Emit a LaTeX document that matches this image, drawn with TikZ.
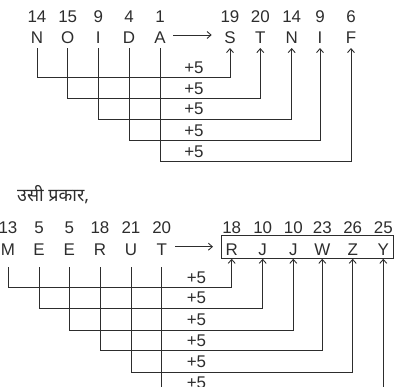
\documentclass[tikz,border=0pt]{standalone}
\usepackage{fontspec}
\setmainfont{Liberation Sans}
\newfontfamily\hindi[Script=Devanagari]{Noto Sans}
\usetikzlibrary{arrows.meta}
\definecolor{ink}{RGB}{45,45,45}
\begin{document}
\begin{tikzpicture}[x=1bp,y=-1bp,
  txt/.style={font=\fontsize{17}{18}\selectfont, text=ink, inner sep=0pt, anchor=base},
  conn/.style={draw=ink, line width=0.9bp, -{Straight Barb[length=4bp,width=7bp]}}]
\useasboundingbox (0,0) rectangle (398,387);
\clip (0,0) rectangle (398,387);
% ---------- top ----------
\foreach \x/\l/\n/\k in {37/N/14/1, 67.7/O/15/2, 98.3/I/9/3, 129/D/4/4, 160/A/1/5} {
  \node[txt] (tl\k) at (\x,43.3) {\l};
  \node[txt] (tn\k) at (\x,22.7) {\n};
}
\foreach \x/\l/\n/\k in {230/S/19/1, 260.3/T/20/2, 291.7/N/14/3, 320/I/9/4, 351/F/6/5} {
  \node[txt] (tr\k) at (\x,43.3) {\l};
  \node[txt] (trn\k) at (\x,22.7) {\n};
}
\foreach \k/\yy in {1/77.7, 2/98.7, 3/119.3, 4/140.7, 5/161.7} {
  \draw[conn] ([yshift=-4.7bp]tl\k.base) -- (tl\k.base |- 0,\yy) -| ([yshift=-4.7bp]tr\k.base);
  \node[txt] (tp\k) at (194,\yy-4.4) {+5};
}
\draw[conn] ([xshift=13.3bp,yshift=8.3bp]tl5.base) -- ([xshift=-18.3bp,yshift=8.3bp]tr1.base);
% ---------- middle text ----------
\node[txt, anchor=base west, font=\hindi\fontsize{18}{20}\selectfont] (hd) at (17,201) {उसी प्रकार,};
% ---------- bottom ----------
\node[draw=ink, line width=0.9bp, minimum width=171.3bp, minimum height=23.3bp, inner sep=0pt] (box) at (307.35,246.65) {};
\foreach \x/\l/\n/\k in {8/M/13/1, 39/E/5/2, 69.3/E/5/3, 100/R/18/4, 131/U/21/5, 161.7/T/20/6} {
  \node[txt] (bl\k) at (\x,255) {\l};
  \node[txt] (bn\k) at (\x,233.3) {\n};
}
\foreach \x/\l/\n/\k in {231.7/R/18/1, 262.7/J/10/2, 293.3/J/10/3, 322.3/W/23/4, 352.7/Z/26/5, 383.3/Y/25/6} {
  \node[txt] (br\k) at (\x,255) {\l};
  \node[txt] (brn\k) at (\x,233.3) {\n};
}
\foreach \k/\yy in {1/287.7, 2/308.3, 3/330, 4/350.7, 5/372.3, 6/393} {
  \draw[conn] ([yshift=-12bp]bl\k.base) -- (bl\k.base |- 0,\yy) -| (br\k |- box.south);
  \node[txt] (bp\k) at (196.5,\yy-4.4) {+5};
}
\draw[conn] ([xshift=13.3bp,yshift=8.3bp]bl6.base) -- ([xshift=-18.7bp,yshift=8.3bp]br1.base);
\end{tikzpicture}
\end{document}
